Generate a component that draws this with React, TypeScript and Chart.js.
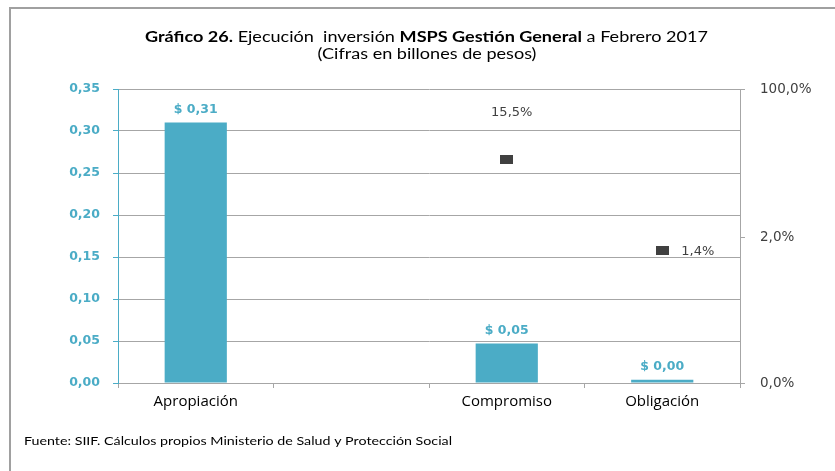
import React, { useEffect, useRef } from 'react';
import { Chart, registerables } from 'chart.js';

Chart.register(...registerables);

// ---- data ----
const categories = ['Apropiación', '', 'Compromiso', 'Obligación'];
const montos = [0.31, null, 0.047, 0.004];
const porcentajes = [null, null, 15.5, 1.4];
const leftTickMax = 0.35;
const leftTickStep = 0.05;
const rightTicks = [0.0422, 2, 100];

const titleLine1 = [
  { text: 'Gráfico 26.', bold: true },
  { text: ' Ejecución  inversión ', bold: false },
  { text: 'MSPS Gestión General', bold: true },
  { text: ' a Febrero 2017', bold: false },
];
const titleLine2 = '(Cifras en billones de pesos)';
const footer = 'Fuente: SIIF. Cálculos propios Ministerio de Salud y Protección Social';

const TEAL = '#4BACC6';
const GRID = '#a6a6a6';
const DARK = '#404040';

const fmtMoney = (v: number) => '$ ' + v.toFixed(2).replace('.', ',');
const fmtPct = (v: number) => v.toFixed(1).replace('.', ',') + '%';

export default function App() {
  const ref = useRef<HTMLCanvasElement | null>(null);

  useEffect(() => {
    document.body.style.margin = '0';
    const canvas = ref.current!;
    const marker = document.createElement('canvas');
    marker.width = 13;
    marker.height = 9;
    const mctx = marker.getContext('2d')!;
    mctx.fillStyle = DARK;
    mctx.fillRect(0, 0, 13, 9);

    const decor = {
      id: 'decor',
      beforeDraw(chart: any) {
        const ctx = chart.ctx;
        ctx.save();
        ctx.fillStyle = '#ffffff';
        ctx.fillRect(0, 0, chart.width, chart.height);
        ctx.strokeStyle = '#a0a0a0';
        ctx.lineWidth = 2;
        ctx.beginPath();
        ctx.moveTo(10, chart.height);
        ctx.lineTo(10, 8);
        ctx.lineTo(chart.width, 8);
        ctx.stroke();
        ctx.restore();
      },
      afterDraw(chart: any) {
        const ctx = chart.ctx;
        ctx.save();
        // title line 1
        const fReg = '15.5px Lato';
        const fBold = 'bold 15.5px Lato';
        let total = 0;
        const widths = titleLine1.map((r) => {
          ctx.font = r.bold ? fBold : fReg;
          const w = ctx.measureText(r.text).width;
          total += w;
          return w;
        });
        const target1 = 563;
        const sx = target1 / total;
        ctx.textBaseline = 'middle';
        ctx.fillStyle = '#000';
        ctx.save();
        ctx.translate(426.5 - target1 / 2, 37);
        ctx.scale(sx, 1);
        let x = 0;
        titleLine1.forEach((r, i) => {
          ctx.font = r.bold ? fBold : fReg;
          ctx.textAlign = 'left';
          ctx.fillText(r.text, x, 0);
          x += widths[i];
        });
        ctx.restore();
        ctx.save();
        ctx.font = fReg;
        ctx.textAlign = 'center';
        ctx.translate(427, 53.5);
        ctx.scale(sx, 1);
        ctx.fillText(titleLine2, 0, 0);
        ctx.restore();
        // footer
        ctx.font = '11px Lato';
        ctx.textAlign = 'left';
        const fw = ctx.measureText(footer).width;
        ctx.save();
        ctx.translate(24, 441);
        ctx.scale(428 / fw, 1);
        ctx.fillText(footer, 0, 0);
        ctx.restore();

        // bar labels
        const barMeta = chart.getDatasetMeta(0);
        ctx.font = 'bold 12.5px "DejaVu Sans"';
        ctx.fillStyle = TEAL;
        ctx.textAlign = 'center';
        barMeta.data.forEach((el: any, i: number) => {
          const v = montos[i];
          if (v == null) return;
          ctx.fillText(fmtMoney(v), el.x, el.y - 13);
        });
        // point labels
        const ptMeta = chart.getDatasetMeta(1);
        ctx.font = '13px "DejaVu Sans"';
        ctx.fillStyle = DARK;
        ptMeta.data.forEach((el: any, i: number) => {
          const v = porcentajes[i];
          if (v == null) return;
          if (i === 2) {
            ctx.textAlign = 'center';
            ctx.fillText(fmtPct(v), el.x + 5, el.y - 47);
          } else {
            ctx.textAlign = 'left';
            ctx.fillText(fmtPct(v), el.x + 19, el.y + 1);
          }
        });
        ctx.restore();
      },
    };

    const chart = new Chart(canvas, {
      type: 'bar',
      data: {
        labels: categories,
        datasets: [
          {
            type: 'bar',
            data: montos as any,
            backgroundColor: TEAL,
            yAxisID: 'y',
            categoryPercentage: 1,
            barPercentage: 0.4,
            order: 2,
          },
          {
            type: 'line',
            data: porcentajes as any,
            yAxisID: 'y1',
            showLine: false,
            pointStyle: marker as any,
            pointRadius: 6,
            order: 1,
          } as any,
        ],
      },
      options: {
        responsive: false,
        animation: false,
        layout: { padding: { top: 89, left: 0, right: 0, bottom: 0 } },
        plugins: { legend: { display: false }, tooltip: { enabled: false }, title: { display: false } },
        scales: {
          x: {
            offset: true,
            grid: { offset: true, drawOnChartArea: false, drawTicks: true, tickLength: 5, color: GRID },
            border: { color: GRID },
            ticks: { color: '#000', font: { family: 'Open Sans', size: 15 }, padding: 5, maxRotation: 0 },
            afterFit: (s: any) => { s.height = 88; },
          },
          y: {
            position: 'left',
            min: 0,
            max: leftTickMax,
            ticks: {
              stepSize: leftTickStep,
              color: TEAL,
              font: { family: 'DejaVu Sans', size: 12.5, weight: 'bold' },
              padding: 13,
              callback: (v: any) => Number(v).toFixed(2).replace('.', ','),
            },
            grid: { color: GRID, tickColor: TEAL, tickLength: 5 },
            border: { color: TEAL },
            afterFit: (s: any) => { s.width = 118; },
          },
          y1: {
            type: 'logarithmic',
            position: 'right',
            min: rightTicks[0],
            max: rightTicks[rightTicks.length - 1],
            grid: { drawOnChartArea: false, tickLength: 5, color: GRID },
            border: { color: GRID },
            ticks: {
              color: DARK,
              font: { family: 'DejaVu Sans', size: 13.5 },
              padding: 15,
              callback: (v: any) => fmtPct(Number(v)),
            },
            afterBuildTicks: (s: any) => { s.ticks = rightTicks.map((v) => ({ value: v })); },
            afterFit: (s: any) => { s.width = 95; },
          } as any,
        },
      },
      plugins: [decor],
    });
    return () => chart.destroy();
  }, []);

  return <canvas ref={ref} width={835} height={471} style={{ display: 'block' }} />;
}
